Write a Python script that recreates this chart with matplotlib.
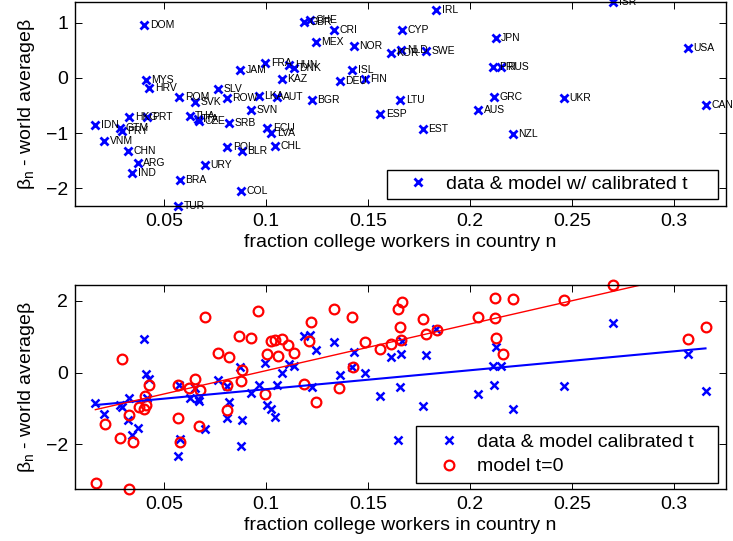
import numpy as np
import matplotlib
matplotlib.use("Agg")
import matplotlib.pyplot as plt
from matplotlib.lines import Line2D

plt.rcParams["font.family"] = ["Liberation Sans", "DejaVu Sans"]

# country codes, college share and beta deviation (data & calibrated model)
codes = ["DOM", "MYS", "HRV", "ROM", "SVK", "SLV", "ROW", "JAM", "FRA", "LKA",
         "SVN", "HKG", "PRT", "IDN", "GTM", "PRY", "VNM", "CHN", "ARG", "IND",
         "THA", "ITA", "CZE", "SRB", "URY", "BRA", "TUR", "COL", "POL", "BLR",
         "ECU", "LVA", "CHL", "IRL", "CHE", "GBR", "CRI", "CYP", "MEX", "NOR",
         "KOR", "NLD", "SWE", "HUN", "DNK", "ISL", "FIN", "DEU", "KAZ", "AUT",
         "BGR", "LTU", "ESP", "EST", "AUS", "ISR", "JPN", "PRI", "RUS", "GRC",
         "UKR", "NZL", "USA", "CAN", "KGZ"]
college = [0.0402, 0.0410, 0.0426, 0.0574, 0.0652, 0.0766, 0.0807, 0.0873, 0.0995, 0.0964,
           0.0926, 0.0328, 0.0415, 0.0162, 0.0281, 0.0293, 0.0206, 0.0322, 0.0371, 0.0342,
           0.0624, 0.0665, 0.0671, 0.0819, 0.0698, 0.0575, 0.0567, 0.0876, 0.0810, 0.0881,
           0.1006, 0.1025, 0.1042, 0.1833, 0.1215, 0.1185, 0.1333, 0.1667, 0.1244, 0.1430,
           0.1611, 0.1662, 0.1784, 0.1114, 0.1134, 0.1423, 0.1484, 0.1361, 0.1077, 0.1055,
           0.1224, 0.1657, 0.1559, 0.1768, 0.2041, 0.2703, 0.2126, 0.2114, 0.2154, 0.2119,
           0.2462, 0.2209, 0.3067, 0.3155, 0.1648]
beta_dev = [0.95, -0.04, -0.19, -0.35, -0.44, -0.21, -0.36, 0.145, 0.27, -0.33,
            -0.58, -0.71, -0.71, -0.85, -0.90, -0.96, -1.15, -1.32, -1.55, -1.73,
            -0.70, -0.745, -0.79, -0.82, -1.58, -1.855, -2.32, -2.05, -1.25, -1.32,
            -0.90, -1.00, -1.23, 1.23, 1.04, 1.01, 0.86, 0.87, 0.64, 0.57,
            0.45, 0.51, 0.48, 0.24, 0.175, 0.145, -0.02, -0.06, -0.02, -0.35,
            -0.40, -0.41, -0.65, -0.93, -0.59, 1.37, 0.72, 0.19, 0.19, -0.35,
            -0.36, -1.01, 0.53, -0.50, -1.87]

# model with t=0
t0_college = [0.0165, 0.0325, 0.0293, 0.0207, 0.0281, 0.0345, 0.0328, 0.0374, 0.0402, 0.0412,
              0.0407, 0.0423, 0.0565, 0.0567, 0.0578, 0.0623, 0.0652, 0.0676, 0.0668, 0.0698,
              0.0766, 0.0819, 0.0810, 0.0807, 0.0869, 0.0925, 0.0881, 0.0876, 0.0962, 0.0995,
              0.1006, 0.1023, 0.1044, 0.1077, 0.1060, 0.1109, 0.1134, 0.1183, 0.1221, 0.1212,
              0.1244, 0.1333, 0.1355, 0.1423, 0.1428, 0.1485, 0.1559, 0.1611, 0.1648, 0.1668,
              0.1657, 0.1660, 0.1768, 0.1783, 0.1837, 0.2041, 0.2123, 0.2213, 0.2123, 0.2127,
              0.2163, 0.2462, 0.2703, 0.3067, 0.3155]
t0_beta = [-3.07, -3.24, 0.39, -1.43, -1.83, -1.94, -1.17, -0.97, -1.00, -0.89,
           -0.64, -0.34, -0.34, -1.25, -1.94, -0.43, -0.19, -0.49, -1.48, 1.55,
           0.55, 0.44, -0.34, -1.05, 1.02, 0.97, 0.08, -0.22, 1.73, -0.59,
           0.52, 0.88, 0.90, 0.95, 0.46, 0.78, 0.55, -0.32, 1.42, 0.88,
           -0.83, 1.76, -0.43, 1.56, 0.16, 0.85, 0.66, 0.81, 1.76, 1.98,
           1.28, 0.90, 1.50, 1.08, 1.20, 1.55, 2.07, 2.04, 1.53, 0.97,
           0.53, 2.02, 2.44, 0.94, 1.28]

x = np.array(college)
y = np.array(beta_dev)
x0 = np.array(t0_college)
y0 = np.array(t0_beta)

ylab = r"$\mathregular{\beta_n}$ - world average$\mathregular{\beta}$"
xlab = "fraction college workers in country n"
xticks = [0.05, 0.1, 0.15, 0.2, 0.25, 0.3]
xticklabels = ["0.05", "0.1", "0.15", "0.2", "0.25", "0.3"]
xlim = (x.min() - 0.01, x.max() + 0.01)

fig = plt.figure(figsize=(7.33, 5.41), dpi=100)
ax1 = fig.add_axes([0.1023, 0.6192, 0.888, 0.377])
ax2 = fig.add_axes([0.1023, 0.0961, 0.888, 0.377])


def style(ax, yticks):
    ax.set_xlim(*xlim)
    ax.set_xticks(xticks)
    ax.set_xticklabels(xticklabels)
    ax.set_yticks(yticks)
    ax.tick_params(direction="in", top=True, right=True, length=5, width=0.7,
                   labelsize=14, pad=5)
    for s in ax.spines.values():
        s.set_linewidth(1.0)
    ax.set_xlabel(xlab, fontsize=14, labelpad=3)
    ax.set_ylabel(ylab, fontsize=14, labelpad=6)


def boxed_legend(ax, handles, labels, left, bottom, pad, spacing):
    leg = ax.legend(handles, labels, loc="lower left", mode="expand",
                    bbox_to_anchor=(left, bottom, 0.988 - left, 0.1),
                    borderaxespad=0, fontsize=14, fancybox=False, edgecolor="black",
                    framealpha=1, handlelength=2.6, handletextpad=0.15,
                    borderpad=pad, labelspacing=spacing)
    leg.get_frame().set_linewidth(1.0)
    leg.set_zorder(10)
    return leg


# top: data with country codes
ax1.plot(x, y, "x", color="blue", ms=6, mew=2, clip_on=False)
for c, xi, yi in zip(codes, x, y):
    ax1.text(xi + 0.0027, yi, c, fontsize=7.5, va="center", ha="left", clip_on=False)
ax1.set_ylim(y.min(), y.max())
style(ax1, [-2, -1, 0, 1])
h1 = [Line2D([], [], ls="none", marker="x", color="blue", ms=6, mew=2)]
boxed_legend(ax1, h1, ["data & model w/ calibrated t"], 0.479, 0.034, 0.3, 0.1)

# bottom: data vs model t=0 with linear fits
ax2.plot(x, y, "x", color="blue", ms=5.5, mew=1.8, clip_on=False)
ax2.plot(x0, y0, "o", mfc="none", mec="red", ms=7, mew=1.6, clip_on=False)
b = np.polyfit(x, y, 1)
r = np.polyfit(x0, y0, 1)
xs = np.array([x.min(), x.max()])
ax2.plot(xs, np.polyval(b, xs), color="blue", lw=1.5)
ax2.plot(xs, np.polyval(r, xs), color="red", lw=1.0)
ax2.set_ylim(y0.min(), y0.max())
style(ax2, [-2, 0, 2])
h2 = [Line2D([], [], ls="none", marker="x", color="blue", ms=5.5, mew=1.8),
      Line2D([], [], ls="none", marker="o", mfc="none", mec="red", ms=7, mew=1.6)]
boxed_legend(ax2, h2, ["data & model calibrated t", "model t=0"], 0.524, 0.029, 0.4, 0.35)

fig.savefig("out.png", dpi=100)
